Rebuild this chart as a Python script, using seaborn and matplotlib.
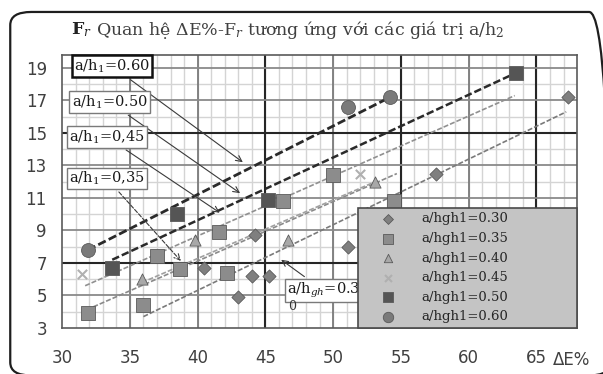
import matplotlib
matplotlib.use("Agg")
import matplotlib.pyplot as plt
from matplotlib.patches import FancyBboxPatch
import seaborn as sns
import numpy as np
import pandas as pd

# measured points per series (a/hgh1)
x_030 = [40.5, 43.0, 44.0, 45.3, 44.2, 51.1, 57.6, 67.3]
y_030 = [6.7, 4.9, 6.2, 6.2, 8.7, 8.0, 12.5, 17.2]
x_035 = [31.9, 36.0, 37.0, 38.7, 41.6, 42.2, 46.3, 50.0, 54.5]
y_035 = [3.9, 4.4, 7.4, 6.6, 8.9, 6.4, 10.8, 12.4, 10.8]
x_040 = [35.9, 39.8, 46.7, 53.1]
y_040 = [6.0, 8.4, 8.4, 12.0]
x_045 = [31.5, 52.0]
y_045 = [6.3, 12.5]
x_050 = [33.7, 38.5, 45.2, 63.5]
y_050 = [6.7, 10.0, 10.9, 18.7]
x_060 = [31.9, 51.1, 54.2]
y_060 = [7.8, 16.6, 17.2]

# trend line end points
trend_x = {"0.30": [36.0, 67.2], "0.35": [32.3, 54.7], "0.40": [35.9, 53.1],
           "0.45": [31.7, 63.4], "0.50": [33.7, 63.5], "0.60": [31.9, 54.2]}
trend_y = {"0.30": [3.7, 16.3], "0.35": [4.3, 12.5], "0.40": [5.8, 12.0],
           "0.45": [5.6, 17.3], "0.50": [7.2, 18.7], "0.60": [7.8, 17.2]}

legend_labels = ["a/hgh1=0.30", "a/hgh1=0.35", "a/hgh1=0.40",
                 "a/hgh1=0.45", "a/hgh1=0.50", "a/hgh1=0.60"]
x_ticks = [30, 35, 40, 45, 50, 55, 60, 65]
y_ticks = [3, 5, 7, 9, 11, 13, 15, 17, 19]

# callout labels: text, text position, arrow target
callouts = [
    ("a/h$_1$=0.60", (30.9, 19.1), (43.5, 13.1), True),
    ("a/h$_1$=0.50", (30.7, 16.9), (43.3, 11.2), False),
    ("a/h$_1$=0,45", (30.5, 14.75), (41.8, 10.0), False),
    ("a/h$_1$=0,35", (30.5, 12.2), (38.9, 7.0), False),
    ("a/h$_{gh}$=0.3", (46.6, 5.3), (46.0, 7.3), False),
]

sns.set_style("white")
plt.rcParams["font.family"] = ["DejaVu Sans"]
plt.rcParams["mathtext.fontset"] = "dejavuserif"

fig = plt.figure(figsize=(6.03, 3.74), dpi=100)
ax = fig.add_axes([0.103, 0.123, 0.854, 0.73])
ax.set_xlim(30, 68)
ax.set_ylim(3, 19.8)

# grid: fine, medium, heavy
for v in np.arange(31, 68, 1):
    ax.axvline(v, color="#d4d4d4", lw=1.0, zorder=0)
for v in np.arange(4, 20, 2):
    ax.axhline(v, color="#d4d4d4", lw=1.0, zorder=0)
for v in [35, 40, 50, 60]:
    ax.axvline(v, color="#7a7a7a", lw=1.3, zorder=0.5)
for v in [45, 55, 65]:
    ax.axvline(v, color="#262626", lw=1.5, zorder=0.5)
for v in [5, 9, 11, 13, 17, 19]:
    ax.axhline(v, color="#8a8a8a", lw=1.3, zorder=0.5)
for v in [7, 15]:
    ax.axhline(v, color="#262626", lw=1.5, zorder=0.5)

# trend lines
line_styles = {"0.30": ("#7a7a7a", 1.2), "0.35": ("#8a8a8a", 1.2), "0.40": ("#a0a0a0", 1.2),
               "0.45": ("#909090", 1.2), "0.50": ("#2a2a2a", 1.8), "0.60": ("#2a2a2a", 2.0)}
for key in trend_x:
    col, lw = line_styles[key]
    tdf = pd.DataFrame({"x": trend_x[key], "y": trend_y[key]})
    sns.lineplot(data=tdf, x="x", y="y", ax=ax, color=col, lw=lw,
                 linestyle=(0, (3, 1.2)), legend=False, zorder=2)

# points
series = [
    (x_030, y_030, "D", "#7f7f7f", 45),
    (x_035, y_035, "s", "#8c8c8c", 100),
    (x_040, y_040, "^", "#a8a8a8", 65),
    (x_045, y_045, "x", "#b0b0b0", 45),
    (x_050, y_050, "s", "#555555", 100),
    (x_060, y_060, "o", "#7a7a7a", 100),
]
for (xs, ys, mk, col, s), lab in zip(series, legend_labels):
    pdf = pd.DataFrame({"x": xs, "y": ys})
    if mk == "x":
        sns.scatterplot(data=pdf, x="x", y="y", ax=ax, marker=mk, color=col,
                        s=s, linewidth=1.5, label=lab, zorder=3)
    else:
        sns.scatterplot(data=pdf, x="x", y="y", ax=ax, marker=mk, color=col,
                        s=s, edgecolor="#5a5a5a", linewidth=0.6, label=lab, zorder=3)

# callout boxes with arrows
for txt, xy_t, xy_a, heavy in callouts:
    ax.annotate(txt, xy=xy_a, xytext=xy_t, fontsize=10.5, family="DejaVu Serif",
                color="#1a1a1a", va="center", ha="left", zorder=5,
                bbox=dict(boxstyle="square,pad=0.15", fc="white",
                          ec="#111111" if heavy else "#7a7a7a", lw=1.8 if heavy else 1.0),
                arrowprops=dict(arrowstyle="->", color="#3a3a3a", lw=0.8,
                                linestyle="--" if "35" in txt else "-"))
ax.text(47.0, 4.3, "0", fontsize=9, family="DejaVu Serif", color="#333333",
        ha="center", va="center", zorder=5)

# axes styling
ax.set_xticks(x_ticks)
ax.set_yticks(y_ticks)
ax.tick_params(axis="both", length=8, width=1.2, color="#9a9a9a",
               labelsize=12, labelcolor="#404040", direction="out")
ax.tick_params(axis="x", pad=7)
ax.tick_params(axis="y", pad=3)
ax.set_xlabel("")
ax.set_ylabel("")
for sp in ax.spines.values():
    sp.set_color("#5a5a5a")
    sp.set_linewidth(1.2)
ax.text(0.953, -0.083, "ΔE%", transform=ax.transAxes, fontsize=12, color="#404040",
        ha="left", va="top")

# legend
leg = ax.legend(loc="lower left", bbox_to_anchor=(0.575, 0.0, 0.425, 0.44), mode="expand",
                frameon=True, fancybox=False, facecolor="#c4c4c4", edgecolor="#4a4a4a",
                framealpha=1, prop={"family": "DejaVu Serif", "size": 9.5},
                labelspacing=0.5, handlelength=3.8, handletextpad=0.6, borderpad=0.35,
                markerscale=0.75, borderaxespad=0)
leg.get_frame().set_linewidth(1.2)
leg.set_zorder(6)

# title
fig.text(0.117, 0.92, "F$_r$", fontsize=12.5, weight="bold", family="DejaVu Serif",
         color="#222222", ha="left", va="center")
fig.text(0.160, 0.92, "Quan hệ ΔE%-F$_r$ tương ứng với các giá trị a/h$_2$", fontsize=12.5,
         family="DejaVu Serif", color="#404040", ha="left", va="center")

# rounded chart-area border
fig.patches.append(FancyBboxPatch((0.017, -0.004), 0.995, 0.972,
                                  boxstyle="round,pad=0,rounding_size=0.035",
                                  transform=fig.transFigure, fill=False,
                                  ec="#1e1e1e", lw=1.6))

fig.savefig("out.png", dpi=100)
